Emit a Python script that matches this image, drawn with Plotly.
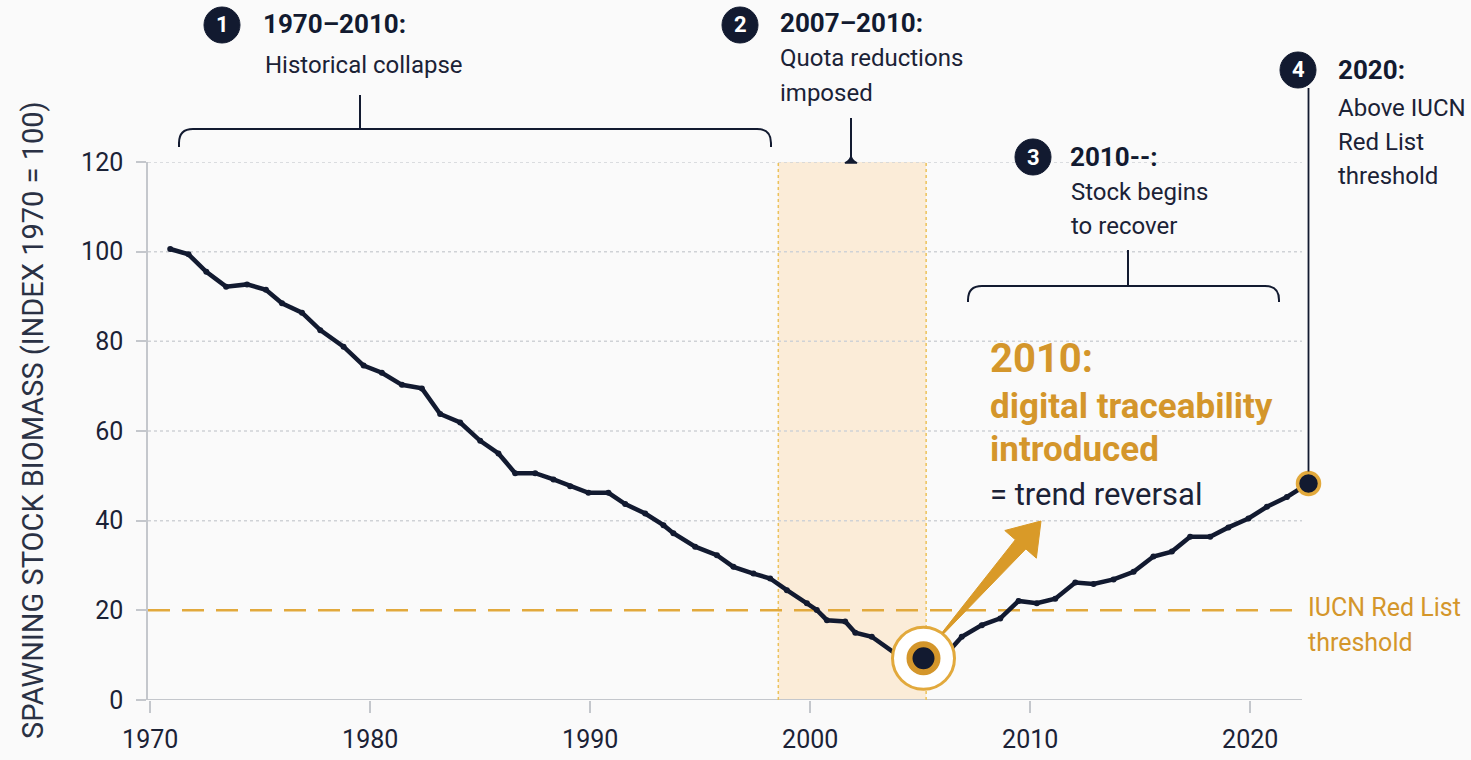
import plotly.graph_objects as go
import math

# ---------------- data ----------------
years = [1970.91, 1971.74, 1972.55, 1973.45, 1974.40, 1975.26, 1975.99, 1976.90, 1977.73, 1978.79,
         1979.70, 1980.53, 1981.44, 1982.35, 1983.18, 1984.09, 1985.00, 1985.83, 1986.59, 1987.50,
         1988.33, 1989.09, 1989.92, 1990.83, 1991.59, 1992.50, 1993.33, 1993.78, 1994.77, 1995.76,
         1996.51, 1997.42, 1998.18, 1998.94, 1999.85, 2000.30, 2000.76, 2001.59, 2002.05, 2002.80,
         2003.86, 2005.15, 2006.36, 2006.89, 2007.80, 2008.64, 2009.47, 2010.30, 2011.14, 2012.05,
         2012.88, 2013.79, 2014.70, 2015.60, 2016.44, 2017.27, 2018.18, 2019.01, 2019.92, 2020.76,
         2021.67, 2022.65]
biomass = [100.6, 99.4, 95.5, 92.2, 92.7, 91.5, 88.5, 86.4, 82.5, 78.8,
           74.6, 73.0, 70.3, 69.5, 63.8, 61.9, 57.8, 55.0, 50.6, 50.6,
           49.2, 47.7, 46.2, 46.2, 43.7, 41.6, 39.0, 37.2, 34.2, 32.3,
           29.7, 28.2, 27.1, 24.5, 21.6, 20.1, 17.8, 17.5, 15.0, 14.1,
           10.4, 9.3, 11.2, 14.1, 16.7, 18.2, 22.1, 21.6, 22.6, 26.2,
           25.9, 26.9, 28.6, 32.0, 33.1, 36.4, 36.4, 38.5, 40.5, 43.1,
           45.3, 48.3]
x_ticks = [1970, 1980, 1990, 2000, 2010, 2020]
y_ticks = [0, 20, 40, 60, 80, 100, 120]
iucn_threshold = 20
quota_band = [1998.55, 2005.27]
y_title = "SPAWNING STOCK BIOMASS (INDEX 1970 = 100)"

# ---------------- style ----------------
FONT = "Roboto"
NAVY = "#121a30"
TEXT = "#1b2236"
GOLD = "#d4962b"
GOLD_LINE = "#e2a93c"
GRID = "#cfd2d6"
AXIS = "#c4c7cc"
BG = "#fafafa"

W_FIG, H_FIG = 1471, 760
L, R, T, B = 148, 146, 162, 60
PW = W_FIG - L - R
PH = H_FIG - T - B
X0, X1 = 1969.9, 1969.9 + PW / 22.0
GRID_END_PX = 1302


def px(xp):
    return (xp - L) / PW


def py(yp):
    return (H_FIG - B - yp) / PH


def xdata(xp):
    return X0 + (xp - L) / PW * (X1 - X0)


fig = go.Figure()

# gridlines (dotted) and x axis line, ending where the reference ends them
for yv in y_ticks:
    if yv in (0, iucn_threshold):
        continue
    fig.add_shape(type="line", xref="x", yref="y", x0=X0, x1=xdata(GRID_END_PX), y0=yv, y1=yv,
                  line=dict(color=GRID, width=1.5, dash="dot"), layer="between")
fig.add_shape(type="line", xref="x", yref="y", x0=X0, x1=xdata(GRID_END_PX), y0=0, y1=0,
              line=dict(color=AXIS, width=1.8), layer="between")

# quota band
fig.add_shape(type="rect", xref="x", yref="y", x0=quota_band[0], x1=quota_band[1],
              y0=0, y1=120, fillcolor="#fbecd8", line=dict(width=0), layer="below")
for xb in quota_band:
    fig.add_shape(type="line", xref="x", yref="y", x0=xb, x1=xb, y0=0, y1=120,
                  line=dict(color="#ecc25a", width=1.5, dash="dot"), layer="between")

# IUCN threshold line
fig.add_shape(type="line", xref="x", yref="y", x0=X0, x1=xdata(1296),
              y0=iucn_threshold, y1=iucn_threshold,
              line=dict(color=GOLD_LINE, width=2.5, dash="22px,12px"), layer="between")

# main line
fig.add_trace(go.Scatter(
    x=years, y=biomass, mode="lines+markers",
    line=dict(color=NAVY, width=4.5),
    marker=dict(size=6, color=NAVY),
    hoverinfo="x+y", showlegend=False))

# low point highlight
i_min = biomass.index(min(biomass))
fig.add_trace(go.Scatter(
    x=[years[i_min]], y=[biomass[i_min]], mode="markers",
    marker=dict(size=62, color="white", line=dict(color=GOLD_LINE, width=3)),
    cliponaxis=False, showlegend=False, hoverinfo="skip"))
fig.add_trace(go.Scatter(
    x=[years[i_min]], y=[biomass[i_min]], mode="markers",
    marker=dict(size=28, color=NAVY, line=dict(color=GOLD, width=6)),
    cliponaxis=False, showlegend=False, hoverinfo="skip"))

# end point
fig.add_trace(go.Scatter(
    x=[years[-1]], y=[biomass[-1]], mode="markers",
    marker=dict(size=22, color=NAVY, line=dict(color=GOLD_LINE, width=3.5)),
    cliponaxis=False, showlegend=False, hoverinfo="skip"))

# vertical connector to end point
fig.add_shape(type="line", xref="x", yref="paper", x0=years[-1], x1=years[-1],
              y0=biomass[-1] / 120 + 12 / PH, y1=py(88),
              line=dict(color=NAVY, width=1.8))


def P(x, y):
    return f"{px(x):.5f},{py(y):.5f}"


def bracket(xl, xr, yh, ydrop, xs, ytop, r=14):
    d = (f"M {P(xl, ydrop)} L {P(xl, yh + r)} Q {P(xl, yh)} {P(xl + r, yh)} "
         f"L {P(xr - r, yh)} Q {P(xr, yh)} {P(xr, yh + r)} L {P(xr, ydrop)}")
    fig.add_shape(type="path", xref="paper", yref="paper", path=d,
                  line=dict(color=NAVY, width=2))
    fig.add_shape(type="line", xref="paper", yref="paper",
                  x0=px(xs), x1=px(xs), y0=py(ytop), y1=py(yh),
                  line=dict(color=NAVY, width=2))


bracket(179, 771, 129, 147, 360, 95)
bracket(968, 1279, 286, 302, 1128, 250)

# connector 2 with small caret
fig.add_shape(type="line", xref="paper", yref="paper",
              x0=px(851), x1=px(851), y0=py(118), y1=py(160),
              line=dict(color=NAVY, width=2))
fig.add_shape(type="path", xref="paper", yref="paper",
              path=f"M {P(845, 163)} Q {P(851, 160)} {P(851, 155)} Q {P(851, 160)} {P(857, 163)} Z",
              fillcolor=NAVY, line=dict(color=NAVY, width=1.5))

# gold arrow (wedge)
bx, by = 943, 633
tx, ty = 1041, 521
dx, dy = tx - bx, ty - by
ln = math.hypot(dx, dy)
ux, uy = dx / ln, dy / ln
nx, ny = -uy, ux
hx, hy = tx - 31 * ux, ty - 31 * uy
pts = [(bx + nx * 1, by + ny * 1), (hx + nx * 7, hy + ny * 7), (hx + nx * 21, hy + ny * 21),
       (tx, ty), (hx - nx * 21, hy - ny * 21), (hx - nx * 7, hy - ny * 7), (bx - nx * 1, by - ny * 1)]
arrow_path = "M " + " L ".join(P(a, b) for a, b in pts) + " Z"
fig.add_shape(type="path", xref="paper", yref="paper", path=arrow_path,
              fillcolor="#d99a28", line=dict(color="#d99a28", width=1))


def badge(cx, cy, n, r=18):
    fig.add_shape(type="circle", xref="paper", yref="paper",
                  x0=px(cx - r), x1=px(cx + r), y0=py(cy + r), y1=py(cy - r),
                  fillcolor=NAVY, line=dict(color=NAVY, width=1))
    fig.add_annotation(x=px(cx), y=py(cy), xref="paper", yref="paper", text=f"<b>{n}</b>",
                       showarrow=False, xanchor="center", yanchor="middle",
                       font=dict(family=FONT, size=22, color="white"))


def txt(x, y, text, size, color=TEXT, bold=False, anchor="left"):
    t = f"<b>{text}</b>" if bold else text
    fig.add_annotation(x=px(x), y=py(y), xref="paper", yref="paper", text=t,
                       showarrow=False, xanchor=anchor, yanchor="middle",
                       font=dict(family=FONT, size=size, color=color))


badge(222, 25, 1)
txt(261, 24, "1970–2010:", 26, NAVY, True)
txt(263, 65, "Historical collapse", 24)

badge(740, 25, 2)
txt(778, 23, "2007–2010:", 26, NAVY, True)
txt(778, 58, "Quota reductions", 24)
txt(778, 93, "imposed", 24)

badge(1033, 157, 3)
txt(1068, 157, "2010--:", 26, NAVY, True)
txt(1069, 192, "Stock begins", 24)
txt(1069, 226, "to recover", 24)

badge(1298, 70, 4)
txt(1336, 70, "2020:", 26, NAVY, True)
txt(1336, 108, "Above IUCN", 24)
txt(1336, 142, "Red List", 24)
txt(1336, 176, "threshold", 24)

txt(988, 358, "2010:", 40, GOLD, True)
txt(988, 406, "digital traceability", 35, GOLD, True)
txt(988, 449, "introduced", 35, GOLD, True)
txt(988, 494, "= trend reversal", 31, TEXT)

txt(1306, 607, "IUCN Red List", 25, GOLD)
txt(1306, 642, "threshold", 25, GOLD)

fig.add_annotation(x=px(33), y=py(420), xref="paper", yref="paper", text=y_title,
                   textangle=-90, showarrow=False, xanchor="center", yanchor="middle",
                   font=dict(family=FONT, size=29, color="#2a3144"))

fig.update_layout(
    width=W_FIG, height=H_FIG,
    margin=dict(l=L, r=R, t=T, b=B, autoexpand=False),
    paper_bgcolor=BG, plot_bgcolor=BG,
    showlegend=False,
    font=dict(family=FONT, color=TEXT),
    xaxis=dict(range=[X0, X1], tickvals=x_ticks, ticks="outside", ticklen=12,
               tickcolor=AXIS, tickwidth=1.5, showline=False, automargin=False,
               showgrid=False, zeroline=False, ticklabelstandoff=5,
               tickfont=dict(family=FONT, size=25, color=TEXT)),
    yaxis=dict(range=[0, 120], tickvals=y_ticks, ticks="outside", ticklen=10,
               tickcolor=AXIS, tickwidth=1.5, showline=True, linecolor=AXIS, linewidth=1.5,
               showgrid=False, zeroline=False, ticklabelstandoff=8, automargin=False,
               tickfont=dict(family=FONT, size=25, color=TEXT)),
)

fig.write_html("out.html", config={"displayModeBar": False},
               post_script="document.body.style.margin='0px';document.body.style.padding='0px';")
